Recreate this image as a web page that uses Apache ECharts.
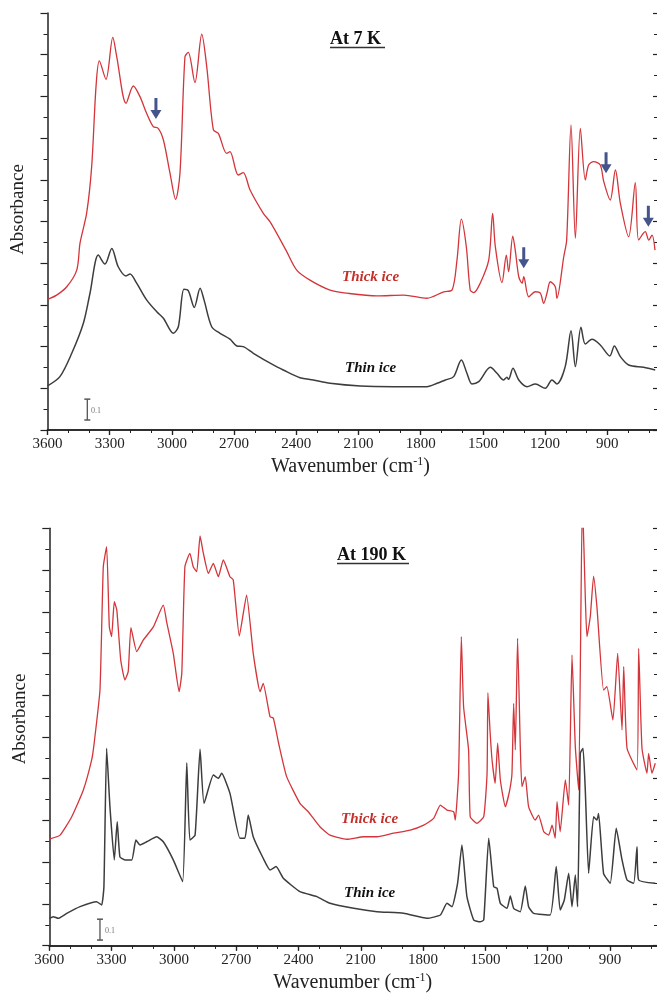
<!DOCTYPE html>
<html>
<head>
<meta charset="utf-8" />
<title>IR spectra at 7 K and 190 K</title>
<script src="https://cdn.jsdelivr.net/npm/echarts@6.0.0/dist/echarts.min.js"></script>
<style>
    *{margin:0;padding:0;}
    html,body{background:#fff;}
    #main{width:657px;height:994px;}
</style>
</head>
<body>
<div id="main"></div>
<script>
// [wavenumber (cm-1), absorbance (offset, arb. units)]
var thick7K = [[3600,0.627],[3556,0.647],[3507,0.687],[3459,0.767],[3443,0.897],[3411,1.041],[3387,1.263],[3366,1.647],[3350,1.770],[3318,1.682],[3285,1.883],[3266,1.790],[3221,1.567],[3186,1.650],[3154,1.599],[3122,1.519],[3090,1.455],[3066,1.447],[3041,1.391],[3009,1.231],[2982,1.106],[2961,1.233],[2937,1.790],[2921,1.811],[2889,1.666],[2856,1.898],[2832,1.743],[2800,1.439],[2776,1.423],[2736,1.327],[2720,1.335],[2680,1.223],[2656,1.234],[2623,1.151],[2559,1.039],[2527,0.999],[2450,0.863],[2398,0.767],[2334,0.719],[2237,0.671],[2155,0.656],[2011,0.643],[1882,0.647],[1770,0.632],[1689,0.663],[1649,0.671],[1625,0.815],[1604,1.011],[1580,0.879],[1561,0.671],[1544,0.659],[1513,0.704],[1472,0.815],[1453,1.039],[1440,0.879],[1408,0.707],[1387,0.839],[1376,0.759],[1356,0.930],[1344,0.863],[1327,0.735],[1311,0.704],[1303,0.735],[1279,0.639],[1247,0.663],[1223,0.656],[1207,0.608],[1191,0.656],[1175,0.711],[1151,0.687],[1143,0.632],[1110,0.831],[1096,0.911],[1075,1.463],[1054,0.919],[1030,1.447],[1006,1.199],[990,1.271],[966,1.287],[934,1.271],[917,1.191],[886,1.103],[861,1.247],[837,1.087],[797,0.927],[765,1.186],[749,0.911],[717,0.951],[700,0.911],[684,0.935],[670,0.863]];
var thin7K = [[3600,0.212],[3540,0.256],[3483,0.368],[3427,0.512],[3395,0.656],[3355,0.839],[3323,0.796],[3290,0.871],[3259,0.783],[3221,0.739],[3202,0.748],[3170,0.704],[3122,0.624],[3073,0.567],[3041,0.536],[2993,0.464],[2969,0.495],[2942,0.675],[2921,0.668],[2892,0.588],[2864,0.680],[2845,0.624],[2808,0.495],[2768,0.464],[2720,0.436],[2687,0.403],[2656,0.400],[2607,0.368],[2511,0.312],[2463,0.288],[2382,0.251],[2318,0.240],[2237,0.224],[2091,0.211],[1930,0.208],[1770,0.208],[1721,0.224],[1681,0.240],[1641,0.256],[1604,0.336],[1577,0.272],[1553,0.221],[1520,0.232],[1464,0.301],[1432,0.272],[1400,0.240],[1384,0.253],[1376,0.243],[1355,0.296],[1327,0.240],[1287,0.208],[1247,0.221],[1199,0.200],[1167,0.240],[1143,0.221],[1103,0.304],[1075,0.476],[1054,0.304],[1027,0.493],[1006,0.412],[974,0.435],[934,0.408],[888,0.355],[866,0.403],[837,0.352],[797,0.312],[725,0.301],[669,0.288]];
var thick190K = [[3600,0.511],[3548,0.530],[3492,0.618],[3436,0.746],[3396,0.890],[3385,0.962],[3356,1.225],[3340,1.816],[3324,1.912],[3311,1.529],[3300,1.481],[3287,1.648],[3275,1.609],[3256,1.369],[3236,1.273],[3220,1.313],[3207,1.524],[3179,1.409],[3147,1.465],[3099,1.528],[3051,1.632],[3035,1.552],[3003,1.401],[2975,1.217],[2962,1.305],[2947,1.816],[2923,1.880],[2907,1.816],[2890,1.792],[2874,1.963],[2858,1.880],[2834,1.784],[2810,1.832],[2786,1.768],[2762,1.848],[2730,1.768],[2714,1.752],[2685,1.484],[2650,1.680],[2618,1.401],[2585,1.217],[2570,1.257],[2537,1.097],[2521,1.090],[2494,0.962],[2457,0.810],[2393,0.682],[2353,0.642],[2297,0.570],[2248,0.530],[2167,0.510],[2086,0.522],[2022,0.522],[1942,0.539],[1862,0.554],[1797,0.578],[1749,0.610],[1717,0.674],[1685,0.650],[1653,0.642],[1645,0.602],[1629,0.826],[1616,1.481],[1605,1.145],[1581,0.938],[1573,0.618],[1541,0.586],[1508,0.618],[1492,0.826],[1488,1.212],[1477,1.018],[1468,0.890],[1453,0.778],[1441,0.970],[1428,0.794],[1404,0.666],[1383,0.746],[1372,0.826],[1364,1.161],[1356,0.938],[1345,1.473],[1332,0.954],[1324,0.762],[1308,0.810],[1292,0.666],[1260,0.602],[1244,0.626],[1219,0.546],[1195,0.530],[1179,0.578],[1164,0.515],[1155,0.690],[1140,0.546],[1115,0.794],[1099,0.674],[1083,1.393],[1067,0.954],[1051,0.746],[1033,2.150],[1019,1.672],[1011,1.481],[995,1.576],[979,1.771],[963,1.624],[931,1.225],[915,1.241],[886,1.081],[863,1.401],[842,1.034],[834,1.337],[818,0.946],[770,0.842],[762,1.425],[746,0.946],[722,0.826],[714,0.922],[698,0.826],[682,0.874]];
var thin190K = [[3600,0.131],[3581,0.139],[3557,0.131],[3516,0.155],[3452,0.187],[3372,0.211],[3348,0.195],[3337,0.283],[3324,0.946],[3308,0.666],[3287,0.411],[3273,0.594],[3260,0.426],[3236,0.411],[3203,0.411],[3183,0.506],[3163,0.483],[3131,0.498],[3083,0.522],[3051,0.498],[3003,0.411],[2958,0.307],[2938,0.877],[2923,0.506],[2898,0.530],[2874,0.941],[2855,0.682],[2810,0.818],[2786,0.802],[2770,0.826],[2730,0.730],[2682,0.515],[2658,0.515],[2642,0.626],[2618,0.522],[2570,0.419],[2537,0.363],[2508,0.379],[2473,0.323],[2393,0.259],[2312,0.235],[2248,0.203],[2134,0.179],[2022,0.163],[1894,0.155],[1781,0.131],[1717,0.147],[1685,0.203],[1661,0.187],[1634,0.299],[1613,0.483],[1589,0.235],[1556,0.123],[1525,0.115],[1508,0.123],[1484,0.515],[1460,0.283],[1444,0.275],[1428,0.203],[1396,0.179],[1380,0.238],[1364,0.179],[1332,0.163],[1308,0.286],[1292,0.187],[1268,0.155],[1188,0.147],[1159,0.379],[1140,0.171],[1120,0.219],[1099,0.347],[1083,0.187],[1067,0.339],[1056,0.187],[1043,0.922],[1030,0.946],[1019,0.746],[1003,0.347],[979,0.618],[963,0.602],[955,0.634],[931,0.347],[899,0.299],[870,0.563],[842,0.411],[818,0.315],[786,0.299],[770,0.474],[762,0.315],[682,0.299]];
// arrow tips marking features in the thick 7 K spectrum
var arrows7K = [[3077,1.492],[1303,0.776],[906,1.231],[702,0.975]];
// 0.1 absorbance scale bars
var scaleBar7K = [[3408,0.048],[3408,0.148]];
var scaleBar190K = [[3356,0.027],[3356,0.127]];

var myChart = echarts.init(document.getElementById('main'));

var serif = 'Liberation Serif';
var axisColor = '#222';

function bottomX(gi) {
    return {
        gridIndex: gi, type: 'value', inverse: true, position: 'bottom',
        min: 600, max: 3600, interval: 300,
        axisLine: {lineStyle: {color: axisColor, width: 1.5}},
        axisTick: {length: 5, lineStyle: {color: axisColor, width: 1.2}},
        minorTick: {show: true, splitNumber: 3, length: 3, lineStyle: {color: axisColor, width: 1}},
        splitLine: {show: false},
        axisLabel: {color: axisColor, fontFamily: serif, fontSize: 15, margin: 7,
            formatter: function (v) { return String(v); }},
        name: 'Wavenumber (cm{sup|-1})',
        nameLocation: 'middle', nameGap: 26,
        nameTextStyle: {
            color: axisColor, fontFamily: serif, fontSize: 20,
            padding: [0, 16, 0, 0],
            rich: {sup: {fontFamily: serif, fontSize: 12, verticalAlign: 'top', padding: [0, 0, 10, 0]}}
        }
    };
}
function topX(gi) {
    return {
        gridIndex: gi, type: 'value', inverse: true, position: 'top',
        min: 600, max: 3600, interval: 300,
        axisLine: {lineStyle: {color: axisColor, width: 1.5}},
        axisTick: {inside: true, length: 5, lineStyle: {color: axisColor, width: 1.2}},
        minorTick: {show: true, splitNumber: 3, length: 3, lineStyle: {color: axisColor, width: 1}},
        splitLine: {show: false},
        axisLabel: {show: false}
    };
}
function leftY(gi, shiftUp) {
    return {
        gridIndex: gi, type: 'value', position: 'left',
        min: 0, max: 2, interval: 0.2,
        axisLine: {show: true, lineStyle: {color: axisColor, width: 1.5}},
        axisTick: {show: true, length: 7, lineStyle: {color: axisColor, width: 1.2}},
        minorTick: {show: true, splitNumber: 2, length: 4, lineStyle: {color: axisColor, width: 1}},
        splitLine: {show: false},
        axisLabel: {show: false},
        name: 'Absorbance', nameLocation: 'middle', nameGap: 20, nameRotate: 90,
        nameTextStyle: {color: axisColor, fontFamily: serif, fontSize: 19, padding: [0, 0, 0, shiftUp * 2]}
    };
}
function rightY(gi, off) {
    return {
        gridIndex: gi, type: 'value', position: 'right', offset: off,
        min: 0, max: 2, interval: 0.2,
        axisLine: {show: false},
        axisTick: {show: true, inside: true, length: 4, lineStyle: {color: axisColor, width: 1.2}},
        minorTick: {show: true, splitNumber: 2, length: 3, lineStyle: {color: axisColor, width: 1}},
        splitLine: {show: false},
        axisLabel: {show: false}
    };
}

function spectrum(data, xi, yi, color, w, smooth) {
    return {
        type: 'line', data: data, xAxisIndex: xi, yAxisIndex: yi,
        showSymbol: false, smooth: smooth, clip: true,
        lineStyle: {color: color, width: w}, silent: true
    };
}
function scaleBar(data, xi, yi) {
    return {
        type: 'line', data: data, xAxisIndex: xi, yAxisIndex: yi,
        symbol: 'rect', symbolSize: [6, 1.5], showSymbol: true,
        itemStyle: {color: '#555'},
        lineStyle: {color: '#555', width: 1.3}, silent: true
    };
}

var red = '#d3353a';
var dark = '#3d3d3d';

var option = {
    animation: false,
    backgroundColor: '#fff',
    grid: [
        {left: 47.5, top: 13, width: 622, height: 417, containLabel: false, outerBoundsMode: 'none'},
        {left: 49.3, top: 528.3, width: 623, height: 417.4, containLabel: false, outerBoundsMode: 'none'}
    ],
    xAxis: [bottomX(0), topX(0), bottomX(1), topX(1)],
    yAxis: [leftY(0, 12), rightY(0, -12.5), leftY(1, 18), rightY(1, -15.3)],
    series: [
        spectrum(thick7K, 0, 0, red, 1.3, 0.3),
        spectrum(thin7K, 0, 0, dark, 1.5, 0.3),
        scaleBar(scaleBar7K, 0, 0),
        {
            type: 'scatter', data: arrows7K, xAxisIndex: 0, yAxisIndex: 0,
            symbol: 'path://M4,0 L7,0 L7,12 L11,12 L5.5,21 L0,12 L4,12 Z',
            symbolSize: [11, 21], symbolOffset: [0, '-50%'],
            itemStyle: {color: '#162a6e'}, silent: true
        },
        spectrum(thick190K, 2, 2, red, 1.3, 0.15),
        spectrum(thin190K, 2, 2, dark, 1.5, 0.15),
        scaleBar(scaleBar190K, 2, 2)
    ],
    graphic: [
        {type: 'text', x: 330, y: 39, style: {text: 'At 7 K', font: 'bold 18px "Liberation Serif"', fill: '#111', verticalAlign: 'middle'}},
        {type: 'line', shape: {x1: 330, y1: 47.5, x2: 385, y2: 47.5}, style: {stroke: '#333', lineWidth: 1.5}},
        {type: 'text', x: 337, y: 555, style: {text: 'At 190 K', font: 'bold 18px "Liberation Serif"', fill: '#111', verticalAlign: 'middle'}},
        {type: 'line', shape: {x1: 337, y1: 563.5, x2: 409, y2: 563.5}, style: {stroke: '#333', lineWidth: 1.5}},
        {type: 'text', x: 342, y: 277, style: {text: 'Thick ice', font: 'italic bold 15px "Liberation Serif"', fill: '#c4302c', verticalAlign: 'middle'}},
        {type: 'text', x: 345, y: 368, style: {text: 'Thin ice', font: 'italic bold 15px "Liberation Serif"', fill: '#111', verticalAlign: 'middle'}},
        {type: 'text', x: 341, y: 819, style: {text: 'Thick ice', font: 'italic bold 15px "Liberation Serif"', fill: '#c4302c', verticalAlign: 'middle'}},
        {type: 'text', x: 344, y: 893, style: {text: 'Thin ice', font: 'italic bold 15px "Liberation Serif"', fill: '#111', verticalAlign: 'middle'}},
        {type: 'text', x: 91, y: 411, style: {text: '0.1', font: '8px "Liberation Serif"', fill: '#777', verticalAlign: 'middle'}},
        {type: 'text', x: 105, y: 931, style: {text: '0.1', font: '8px "Liberation Serif"', fill: '#777', verticalAlign: 'middle'}}
    ]
};

myChart.setOption(option);
window.onresize = myChart.resize;
</script>
</body>
</html>
